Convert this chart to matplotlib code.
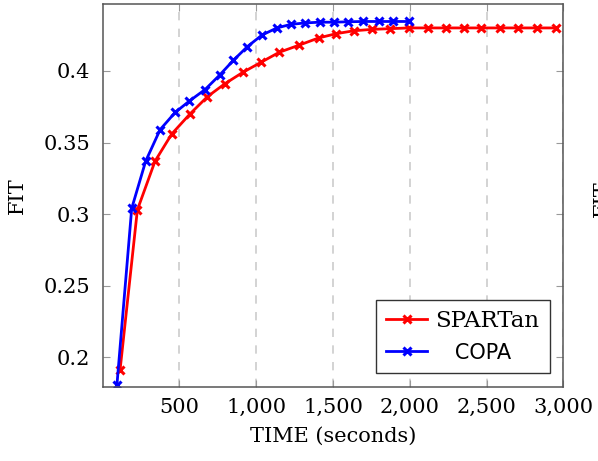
import matplotlib
matplotlib.use("Agg")
import matplotlib.pyplot as plt

# data
spartan_time = [113, 226, 341, 450, 569, 682, 795, 913, 1031, 1150, 1280, 1406, 1522,
                1635, 1755, 1874, 1998, 2117, 2237, 2350, 2466, 2585, 2704, 2826, 2955]
spartan_fit = [0.191, 0.303, 0.337, 0.356, 0.370, 0.382, 0.391, 0.399, 0.406, 0.413,
               0.418, 0.423, 0.426, 0.428, 0.429, 0.4295, 0.430, 0.430, 0.430, 0.430,
               0.430, 0.430, 0.430, 0.430, 0.430]

copa_time = [93, 189, 280, 374, 472, 565, 667, 761, 852, 943, 1037, 1135, 1226, 1320,
             1413, 1509, 1598, 1696, 1798, 1892, 1993]
copa_fit = [0.181, 0.304, 0.337, 0.359, 0.371, 0.379, 0.387, 0.397, 0.4075, 0.417,
            0.425, 0.430, 0.4325, 0.4335, 0.434, 0.434, 0.4343, 0.4345, 0.4345, 0.4345,
            0.4345]

x_ticks = [500, 1000, 1500, 2000, 2500, 3000]
x_tick_labels = ["500", "1,000", "1,500", "2,000", "2,500", "3,000"]
y_ticks = [0.2, 0.25, 0.3, 0.35, 0.4]
y_tick_labels = ["0.2", "0.25", "0.3", "0.35", "0.4"]

plt.rcParams["font.family"] = "DejaVu Serif"

fig = plt.figure(figsize=(5.98, 4.61), dpi=100)
ax = fig.add_axes([0.1717, 0.161, 0.7703, 0.830])

ax.plot(spartan_time, spartan_fit, color="#ff0000", lw=2.0, marker="x",
        ms=6, mew=2.2, label="SPARTan")
ax.plot(copa_time, copa_fit, color="#0000ff", lw=2.0, marker="x",
        ms=6, mew=2.2, label="   COPA")

ax.set_xlim(0, 3000)
ax.set_ylim(0.1795, 0.4466)
ax.set_xticks(x_ticks)
ax.set_xticklabels(x_tick_labels)
ax.set_yticks(y_ticks)
ax.set_yticklabels(y_tick_labels)
ax.tick_params(labelsize=15, direction="in", length=5, color="#999999",
               top=True, right=True)
ax.tick_params(axis="y", pad=9)
ax.tick_params(axis="x", pad=8)

# dashed vertical grid only
ax.grid(axis="x", color="#cccccc", linestyle=(0, (5, 5)), lw=1.2)
ax.set_axisbelow(True)

for s in ax.spines.values():
    s.set_color("#555555")
    s.set_linewidth(1.1)

ax.set_xlabel("TIME (seconds)", fontsize=15, labelpad=7)
ax.set_ylabel("FIT", fontsize=15, labelpad=12)

leg = ax.legend(loc="lower right", fontsize=16.5, fancybox=False, framealpha=1,
                edgecolor="#333333", borderaxespad=0.6, handlelength=1.8,
                handletextpad=0.35, borderpad=0.45, labelspacing=0.45)
leg.get_frame().set_linewidth(1.0)
leg.get_texts()[1].set_family("DejaVu Sans")
leg.get_texts()[1].set_fontsize(15)

# cut-off label of the neighbouring plot
fig.text(593 / 598, 0.57, "FIT", rotation=90, fontsize=15, va="center", ha="left")

fig.savefig("out.png", dpi=100)
